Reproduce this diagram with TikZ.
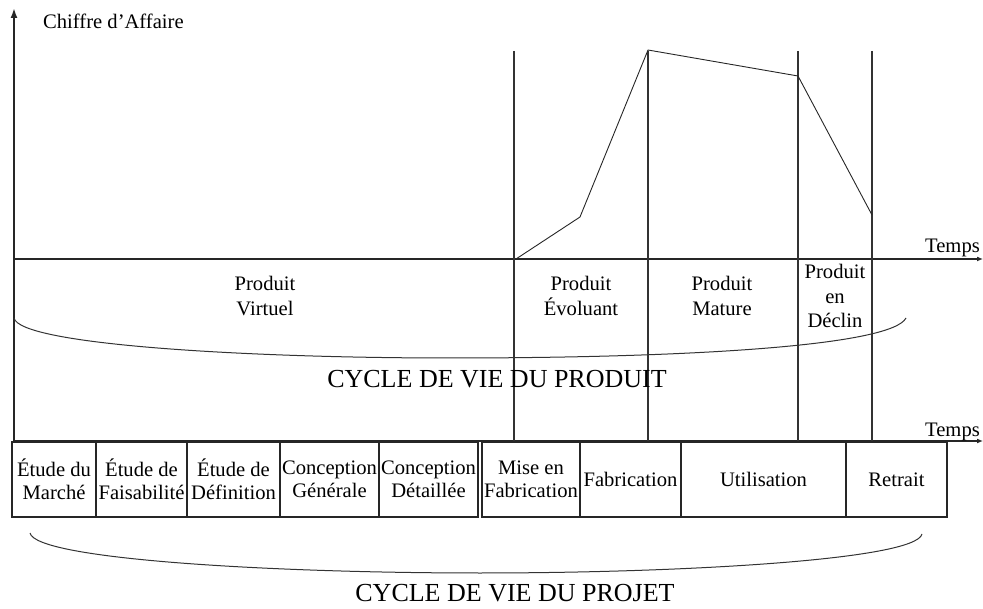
\documentclass[tikz,border=0pt]{standalone}
\usepackage{fontspec}
\setmainfont{Liberation Serif}
\usetikzlibrary{arrows.meta}
\begin{document}
\begin{tikzpicture}[x=1pt,y=-1pt,
  axisline/.style={line width=1.8pt,draw=black!85},
  vline/.style={line width=1.4pt,draw=black!80},
  curveline/.style={line width=0.9pt,draw=black!85},
  bracecurve/.style={line width=1pt,draw=black!80},
  box/.style={draw=black!85,line width=1.2pt,minimum height=75pt,inner sep=1pt,align=center,
     font=\fontsize{20.6pt}{23pt}\selectfont},
  lbl/.style={inner sep=0pt,align=center,font=\fontsize{20.6pt}{24.5pt}\selectfont},
  biglbl/.style={inner sep=0pt,font=\fontsize{26pt}{30pt}\selectfont}]
\useasboundingbox (0,0) rectangle (983,609);
% named points
\coordinate (o) at (14,259);
\coordinate (ytop) at (14,8);
\coordinate (ybot) at (14,441);
\coordinate (x1end) at (983,259);
\coordinate (x2end) at (983,441);
% axes
\draw[axisline,-{Latex[length=10pt,width=7pt]}] (ybot) -- (ytop);
\draw[axisline,-{Latex[length=6pt,width=5pt]}] (o) -- (x1end);
\draw[axisline,-{Latex[length=6pt,width=5pt]}] (ybot) -- (x2end);
% vertical separators
\foreach \xx/\nm in {514/a,648/b,798/c,872/d}{
  \coordinate (v\nm t) at (\xx,51);
  \coordinate (v\nm b) at (\xx,441);
  \draw[vline] (v\nm t) -- (v\nm b);
}
% sales curve
\coordinate (p0) at (516,259);
\coordinate (p1) at (580,217);
\coordinate (p2) at (648,50);
\coordinate (p3) at (798,76);
\coordinate (p4) at (872,215);
\draw[curveline,line join=round] (p0) -- (p1) -- (p2) -- (p3) -- (p4);
% labels
\node[lbl,anchor=base west] (ca) at (43,29) {Chiffre d'Affaire};
\node[lbl,anchor=base east] (t1) at (980,253) {Temps};
\node[lbl,anchor=base east] (t2) at (980,437) {Temps};
\node[lbl] (pv) at (265,296) {Produit\\Virtuel};
\node[lbl] (pe) at (581,296) {Produit\\Évoluant};
\node[lbl] (pm) at (722,296) {Produit\\Mature};
\node[lbl] (pd) at (835,296) {Produit\\en\\Déclin};
% product life brace
\coordinate (ub1) at (14,318);
\coordinate (ubm) at (450,358);
\coordinate (ub2) at (906,318);
\draw[bracecurve] (ub1) .. controls (20,345) and (250,358) .. (ubm) .. controls (700,358) and (892,345) .. (ub2);
\node[biglbl,anchor=base] (cvp) at (497,388) {CYCLE DE VIE DU PRODUIT};
% project boxes
\node[box,minimum width=84pt] (b1) at (54,479.5) {Étude du\\Marché};
\node[box,minimum width=91pt] (b2) at (141.5,479.5) {Étude de\\Faisabilité};
\node[box,minimum width=93pt] (b3) at (233.5,479.5) {Étude de\\Définition};
\node[box,minimum width=99pt] (b4) at (329.5,479.5) {Conception\\Générale};
\node[box,minimum width=99pt] (b5) at (428.5,479.5) {Conception\\Détaillée};
\node[box,minimum width=98pt] (b6) at (531,479.5) {Mise en\\Fabrication};
\node[box,minimum width=101pt] (b7) at (630.5,479.5) {Fabrication};
\node[box,minimum width=165pt] (b8) at (763.5,479.5) {Utilisation};
\node[box,minimum width=101pt] (b9) at (896.5,479.5) {Retrait};
% project life brace
\coordinate (lb1) at (30,533);
\coordinate (lbm) at (480,573);
\coordinate (lb2) at (922,534);
\draw[bracecurve] (lb1) .. controls (36,560) and (280,573) .. (lbm) .. controls (680,573) and (916,560) .. (lb2);
\node[biglbl,anchor=base] (cvj) at (515,601) {CYCLE DE VIE DU PROJET};
\end{tikzpicture}
\end{document}
